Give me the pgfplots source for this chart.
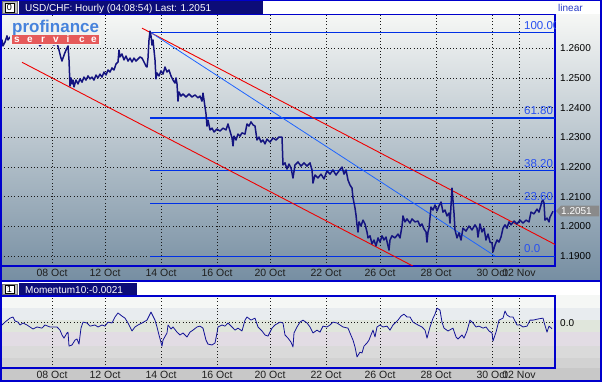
\documentclass[border=0pt]{standalone}
\usepackage{pgfplots}
\pgfplotsset{compat=1.18}
\usepackage{fontspec}
\setmainfont{Liberation Sans}
\definecolor{navybar}{RGB}{12,12,120}
\definecolor{frameblue}{RGB}{0,0,204}
\definecolor{fibblue}{RGB}{0,48,230}
\definecolor{trendblue}{RGB}{30,100,255}
\definecolor{chanred}{RGB}{240,0,0}
\definecolor{priceline}{RGB}{20,20,128}
\definecolor{momline}{RGB}{20,20,150}
\definecolor{fiblabel}{RGB}{40,80,240}
\definecolor{linearblue}{RGB}{40,60,200}
\definecolor{bgtop}{RGB}{246,247,245}
\definecolor{bgmid}{RGB}{196,205,213}
\definecolor{bgbot}{RGB}{118,142,162}
\definecolor{mA}{RGB}{245,247,245}
\definecolor{mB}{RGB}{232,236,239}
\definecolor{mC}{RGB}{224,230,220}
\definecolor{mD}{RGB}{226,220,228}
\definecolor{mE}{RGB}{218,218,218}
\definecolor{mF}{RGB}{210,210,210}
\definecolor{mG}{RGB}{200,200,200}
\definecolor{logobg}{RGB}{240,242,241}
\definecolor{logoblue}{RGB}{70,130,220}
\definecolor{logored}{RGB}{230,90,90}
\definecolor{tagray}{RGB}{138,138,138}
\begin{document}
\begin{tikzpicture}
\useasboundingbox (0pt,0pt) rectangle (602pt,382pt);
\begin{scope}[x=1pt,y=-1pt,shift={(0pt,382pt)}]
\fill[white] (0,0) rectangle (602,382);
\shade[top color=bgtop, middle color=bgmid, bottom color=bgbot] (0,14) rectangle (602,281);
\fill[mA] (0,295) rectangle (602,308);
\fill[mB] (0,308) rectangle (602,320);
\fill[mC] (0,320) rectangle (602,332);
\fill[mD] (0,332) rectangle (602,346);
\fill[mE] (0,346) rectangle (602,358);
\fill[mF] (0,358) rectangle (602,368);
\fill[mG] (0,368) rectangle (602,382);
\end{scope}

\pgfplotsset{
  chartstyle/.style={
    anchor=south west, scale only axis, width=554pt,
    xmin=1, xmax=555,
    axis line style={draw=frameblue, line width=1.3pt},
    major tick length=0pt,
    grid=major,
    major grid style={draw=black!90, line width=0.7pt, dash pattern=on 0.7pt off 2.6pt},
    xtick={52,105,161,217,270,326,380,436,492,519},
    xticklabels={08 Oct,12 Oct,14 Oct,16 Oct,20 Oct,22 Oct,26 Oct,28 Oct,30 Oct,02 Nov},
    xticklabel style={font=\fontsize{10.5}{12}\selectfont, text=black!88, anchor=base, yshift=-10.7pt},
    yticklabel pos=right,
    yticklabel style={font=\fontsize{10}{12}\selectfont, text=black, anchor=west, xshift=1.7pt},
  }
}

\begin{axis}[chartstyle, at={(1pt,116pt)}, height=251.3pt,
  ymin=1.18664, ymax=1.27133,
  ytick={1.19,1.2,1.21,1.22,1.23,1.24,1.25,1.26},
  yticklabels={1.1900,1.2000,1.2100,1.2200,1.2300,1.2400,1.2500,1.2600}]
% Fibonacci levels
\addplot[fibblue, line width=1.2pt] coordinates {(150,1.2654) (555,1.2654)};
\addplot[fibblue, line width=1.2pt] coordinates {(150,1.2365) (555,1.2365)};
\addplot[fibblue, line width=1.2pt] coordinates {(150,1.2187) (555,1.2187)};
\addplot[fibblue, line width=1.2pt] coordinates {(150,1.2076) (555,1.2076)};
\addplot[fibblue, line width=1.2pt] coordinates {(150,1.1898) (555,1.1898)};
% trend channel
\addplot[chanred, line width=0.9pt] coordinates {(142,1.2668) (555,1.1939)};
\addplot[chanred, line width=0.9pt] coordinates {(22,1.2553) (413,1.1866)};
\addplot[trendblue, line width=0.8pt] coordinates {(150,1.2655) (495,1.1900)};
% price
\addplot[priceline, line width=1.5pt, line join=round] coordinates {
(0,1.2615) (2,1.2628) (3,1.2608) (5,1.2621) (7,1.2642) (8,1.2628) (10,1.2638) (13,1.2625)
(16,1.2635) (20,1.2628) (24,1.2638) (28,1.2625) (32,1.2631) (35,1.2615) (37,1.2625) (40,1.2608)
(43,1.2621) (46,1.2615) (50,1.2618) (54,1.2611) (57,1.2618) (59,1.2594) (61,1.2567) (62,1.2557)
(64,1.2577) (66,1.2594) (68,1.2608) (69,1.2561) (70,1.2473) (71,1.2500) (72,1.2480) (73,1.2493)
(74,1.2470) (76,1.2493) (78,1.2480) (80,1.2497) (82,1.2486) (84,1.2503) (86,1.2493) (88,1.2507)
(90,1.2497) (92,1.2503) (94,1.2493) (96,1.2510) (98,1.2500) (100,1.2513) (102,1.2503) (104,1.2520)
(106,1.2510) (108,1.2527) (110,1.2520) (112,1.2534) (114,1.2527) (116,1.2547) (118,1.2554) (119,1.2594)
(120,1.2571) (122,1.2581) (124,1.2561) (126,1.2574) (128,1.2557) (130,1.2567) (132,1.2554) (134,1.2567)
(136,1.2557) (138,1.2564) (140,1.2571) (142,1.2567) (144,1.2554) (146,1.2540) (147,1.2537) (148,1.2567)
(149,1.2628) (150,1.2658) (151,1.2642) (152,1.2611) (153,1.2628) (154,1.2594) (155,1.2561) (156,1.2497)
(157,1.2517) (159,1.2507) (161,1.2524) (163,1.2513) (165,1.2537) (167,1.2520) (169,1.2527) (171,1.2507)
(173,1.2493) (175,1.2483) (176,1.2500) (177,1.2480) (178,1.2422) (179,1.2453) (181,1.2439) (183,1.2446)
(186,1.2436) (189,1.2446) (192,1.2436) (195,1.2443) (198,1.2433) (200,1.2439) (202,1.2422) (203,1.2449)
(204,1.2426) (206,1.2379) (207,1.2338) (208,1.2358) (210,1.2325) (212,1.2331) (214,1.2318) (217,1.2328)
(220,1.2321) (223,1.2331) (226,1.2325) (228,1.2345) (230,1.2321) (232,1.2298) (233,1.2271) (234,1.2304)
(236,1.2291) (238,1.2311) (240,1.2304) (242,1.2315) (245,1.2311) (247,1.2345) (249,1.2338) (251,1.2352)
(253,1.2342) (255,1.2338) (257,1.2291) (259,1.2301) (261,1.2284) (263,1.2291) (265,1.2278) (267,1.2294)
(270,1.2284) (273,1.2298) (276,1.2291) (279,1.2301) (282,1.2301) (283,1.2207) (285,1.2214) (287,1.2193)
(289,1.2210) (291,1.2197) (293,1.2163) (295,1.2207) (298,1.2217) (301,1.2203) (304,1.2214) (307,1.2203)
(310,1.2214) (312,1.2190) (313,1.2146) (315,1.2173) (318,1.2163) (321,1.2176) (324,1.2160) (327,1.2187)
(330,1.2176) (333,1.2190) (336,1.2173) (339,1.2187) (342,1.2200) (344,1.2176) (346,1.2190) (348,1.2156)
(350,1.2139) (352,1.2129) (353,1.2096) (355,1.2062) (356,1.2038) (357,1.2005) (358,1.1981) (359,1.2015)
(361,1.2001) (363,1.2021) (365,1.2008) (367,1.1981) (368,1.1961) (370,1.1968) (372,1.1941) (374,1.1954)
(376,1.1934) (378,1.1961) (380,1.1947) (382,1.1968) (384,1.1954) (386,1.1964) (388,1.1934) (389,1.1920)
(390,1.1954) (392,1.1968) (395,1.1961) (398,1.1974) (400,1.1961) (402,1.2001) (403,1.2035) (405,1.2015)
(407,1.2025) (410,1.2011) (412,1.2025) (415,1.2015) (418,1.2018) (420,1.2001) (422,1.2008) (424,1.1991)
(426,1.1981) (427,1.1947) (428,1.1981) (429,1.1994) (431,1.2065) (433,1.2055) (435,1.2072) (437,1.2052)
(439,1.2069) (441,1.2082) (443,1.2048) (445,1.2055) (447,1.2035) (449,1.2045) (450,1.2011) (452,1.2129)
(454,1.2045) (455,1.1988) (457,1.1961) (459,1.1978) (461,1.1954) (463,1.1994) (466,1.1984) (469,1.2001)
(472,1.1988) (475,1.2005) (477,1.1994) (478,1.1964) (480,1.2008) (482,1.1981) (484,1.1994) (486,1.1954)
(488,1.1974) (490,1.1947) (492,1.1944) (493,1.1914) (495,1.1937) (497,1.1954) (499,1.1947) (501,1.1964)
(503,1.1994) (505,1.2005) (507,1.1994) (509,1.2015) (511,1.2005) (514,1.2018) (517,1.2008) (520,1.2021)
(523,1.2011) (526,1.2021) (529,1.2015) (531,1.2048) (534,1.2042) (537,1.2058) (539,1.2048) (541,1.2072)
(542,1.2085) (543,1.2089) (544,1.2079) (545,1.2021) (547,1.2028) (549,1.2015) (550,1.2031) (553,1.2051)
};
\end{axis}

\begin{axis}[chartstyle, at={(1pt,14pt)}, height=72pt,
  ymin=-0.01586, ymax=0.00935,
  ytick={0}, yticklabels={0.0}]
\addplot[momline, line width=0.8pt, line join=round] coordinates {
(2,-0.0008) (5,0.0002) (10,0.0016) (13,0.0020) (15,0.0006) (18,0.0002) (20,-0.0008) (23,-0.0001)
(27,-0.0008) (30,-0.0015) (33,-0.0022) (37,-0.0015) (42,-0.0019) (45,-0.0008) (50,-0.0015) (53,-0.0015)
(57,-0.0015) (60,-0.0026) (62,-0.0043) (64,-0.0054) (67,-0.0036) (68,-0.0033) (69,-0.0082) (72,-0.0078)
(75,-0.0061) (77,-0.0057) (79,-0.0075) (81,-0.0019) (83,0.0002) (87,-0.0001) (90,-0.0012) (95,-0.0008)
(98,-0.0015) (102,-0.0008) (105,-0.0012) (108,0.0002) (112,-0.0001) (115,0.0020) (118,0.0034) (122,0.0023)
(125,0.0016) (128,-0.0001) (132,-0.0029) (135,-0.0015) (138,-0.0008) (142,-0.0001) (147,0.0009) (151,0.0037)
(153,0.0023) (155,0.0009) (157,-0.0015) (159,-0.0043) (162,-0.0082) (163,-0.0061) (167,-0.0036) (168,-0.0008)
(171,-0.0022) (173,-0.0015) (177,-0.0033) (180,-0.0043) (183,-0.0036) (187,-0.0050) (190,-0.0033) (193,-0.0026)
(197,-0.0015) (200,-0.0012) (203,-0.0019) (206,-0.0061) (208,-0.0075) (212,-0.0078) (215,-0.0071) (217,-0.0036)
(218,-0.0015) (222,-0.0008) (225,-0.0012) (228,-0.0001) (232,-0.0015) (235,-0.0026) (238,-0.0019) (242,-0.0029)
(245,0.0009) (247,0.0020) (251,0.0009) (255,0.0016) (258,-0.0015) (262,-0.0029) (265,-0.0043) (268,-0.0047)
(272,-0.0019) (275,-0.0008) (280,0.0002) (283,-0.0001) (285,-0.0043) (288,-0.0054) (291,-0.0068) (293,-0.0085)
(294,-0.0036) (297,-0.0015) (300,0.0002) (303,0.0009) (307,-0.0001) (310,-0.0015) (313,-0.0036) (317,-0.0026)
(320,-0.0033) (323,-0.0012) (327,-0.0015) (330,-0.0008) (333,0.0002) (337,-0.0001) (340,-0.0008) (343,-0.0015)
(348,-0.0019) (350,-0.0036) (353,-0.0061) (355,-0.0085) (357,-0.0120) (360,-0.0103) (362,-0.0106) (364,-0.0082)
(367,-0.0071) (369,-0.0061) (371,-0.0043) (373,-0.0026) (375,-0.0050) (377,-0.0015) (380,-0.0008) (383,-0.0015)
(387,-0.0012) (390,-0.0026) (393,-0.0008) (398,0.0009) (401,0.0023) (404,0.0030) (407,0.0020) (410,0.0020)
(413,0.0002) (418,-0.0008) (422,-0.0015) (425,-0.0026) (427,-0.0054) (430,-0.0015) (433,0.0016) (435,0.0030)
(437,0.0051) (440,0.0044) (442,0.0002) (444,-0.0019) (448,-0.0029) (453,-0.0019) (456,-0.0050) (458,-0.0057)
(462,-0.0043) (464,-0.0054) (467,-0.0029) (470,0.0009) (473,-0.0001) (476,-0.0015) (479,-0.0012) (483,-0.0019)
(486,-0.0015) (489,-0.0029) (492,-0.0036) (493,-0.0064) (496,-0.0033) (499,0.0009) (503,0.0016) (505,0.0041)
(507,0.0027) (510,0.0020) (513,0.0020) (517,-0.0008) (520,-0.0008) (523,-0.0015) (527,-0.0012) (530,0.0009)
(533,0.0009) (538,0.0013) (543,0.0016) (544,0.0002) (547,-0.0033) (549,-0.0012) (552,-0.0021)
};
\end{axis}

\begin{scope}[x=1pt,y=-1pt,shift={(0pt,382pt)}]
% fib labels clipped to plot area
\begin{scope}
\clip (1,14.7) rectangle (555,266);
\begin{scope}[every node/.style={anchor=base west, inner sep=0pt, text=fiblabel, font=\fontsize{11.5}{12}\selectfont}]
\node at (524,30) {100.00};
\node at (524,114.7) {61.80};
\node at (524,168) {38.20};
\node at (524,200.7) {23.60};
\node at (524,253) {0.0};
\end{scope}
\end{scope}
% logo
\fill[logobg] (10,16.5) rectangle (101,45);
\node[anchor=base west, inner sep=0pt, text=logoblue, font=\bfseries\fontsize{17}{17}\selectfont] at (12,32.3) {profinance};
\fill[logored] (11.7,35.3) rectangle (99.3,44);
\begin{scope}[every node/.style={anchor=base, inner sep=0pt, text=white, font=\bfseries\fontsize{10}{10}\selectfont}]
\node at (17,42.3) {s};
\node at (30,42.3) {e};
\node at (43,42.3) {r};
\node at (56,42.3) {v};
\node at (68,42.3) {i};
\node at (82,42.3) {c};
\node at (94,42.3) {e};
\end{scope}
% last price tag
\fill[tagray] (556,211) -- (561,205.7) -- (599,205.7) -- (599,216.5) -- (561,216.5) -- cycle;
\node[anchor=base west, inner sep=0pt, text=white, font=\fontsize{10}{12}\selectfont] at (561,214.5) {1.2051};
% top title bar
\fill[white] (0,0) rectangle (602,14);
\fill[black!25] (2,1.5) rectangle (17,13.5);
\draw[black!55, line width=0.6pt] (2,1.5) rectangle (17,13.5);
\fill[white] (5,3) rectangle (14,12);
\draw[black, line width=0.6pt] (5,3) rectangle (14,12);
\node[inner sep=0pt, font=\fontsize{9}{9}\selectfont] at (9.5,7.5) {0};
\fill[navybar] (19,1.5) rectangle (263,14);
\node[anchor=base west, inner sep=0pt, text=white, font=\fontsize{10}{12}\selectfont] at (25,11.2) {USD/CHF: Hourly (04:08:54) Last: 1.2051};
\node[anchor=base west, inner sep=0pt, text=linearblue, font=\fontsize{10}{12}\selectfont] at (558,11.5) {linear};
% separator and momentum title
\fill[frameblue] (0,280) rectangle (602,282);
\fill[white] (0,282) rectangle (602,295.5);
\fill[black!25] (2,284) rectangle (17,294.5);
\draw[black!55, line width=0.6pt] (2,284) rectangle (17,294.5);
\fill[white] (5,285.5) rectangle (14,293);
\draw[black, line width=0.6pt] (5,285.5) rectangle (14,293);
\node[inner sep=0pt, font=\fontsize{9}{9}\selectfont] at (9.5,289.3) {1};
\fill[navybar] (19,283.5) rectangle (137,295.5);
\node[anchor=base west, inner sep=0pt, text=white, font=\fontsize{10}{12}\selectfont] at (25,293.3) {Momentum10:-0.0021};
% outer border
\draw[frameblue, line width=1.5pt] (0.75,0.75) rectangle (600.75,381.25);
\end{scope}
\end{tikzpicture}
\end{document}
